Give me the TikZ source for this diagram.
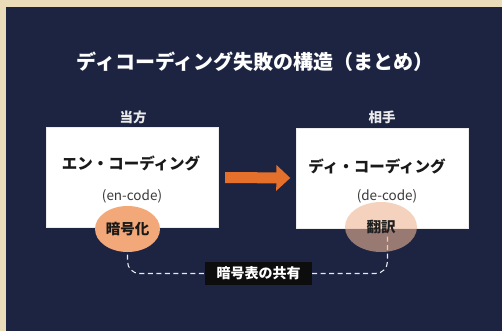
\documentclass[tikz,border=0pt]{standalone}
\usepackage{fontspec}
\setmainfont{Noto Sans CJK JP}
\usetikzlibrary{arrows.meta,shapes.geometric}
\definecolor{navy}{HTML}{1C2442}
\definecolor{parch}{HTML}{EADCB8}
\definecolor{peach}{HTML}{F2A878}
\definecolor{peachpale}{HTML}{EDB494}
\definecolor{arroworange}{HTML}{E4702C}
\definecolor{subgrey}{HTML}{3A3A3A}
\tikzset{
  titletext/.style={text=white, font=\bfseries\fontsize{20}{23}\selectfont, inner sep=0pt},
  sidetext/.style={text=white!92!black, font=\bfseries\fontsize{13.5}{16}\selectfont, inner sep=0pt},
  whitebox/.style={fill=white, draw=white!85!gray, line width=0.4pt, minimum width=172pt, minimum height=100pt, inner sep=0pt},
  boxhead/.style={text=black!90, font=\bfseries\fontsize{15.5}{18}\selectfont, inner sep=0pt},
  boxsub/.style={text=subgrey, font=\fontsize{13.5}{16}\selectfont, inner sep=0pt},
  solidoval/.style={ellipse, fill=peach, minimum width=65pt, minimum height=46pt, inner sep=0pt, text=black!90, font=\bfseries\fontsize{14.5}{16}\selectfont},
  fadedoval/.style={ellipse, fill=peachpale, fill opacity=0.6, text opacity=1, minimum width=72pt, minimum height=50pt, inner sep=0pt, text=black!88, font=\bfseries\fontsize{14.5}{16}\selectfont},
  sharelink/.style={draw=white!90!navy, line width=1.1pt, dash pattern=on 5pt off 3.5pt, rounded corners=12pt},
  sharelabel/.style={fill=black!95, text=white, font=\bfseries\fontsize{14}{16}\selectfont, minimum width=107pt, minimum height=23pt, inner sep=0pt},
  bigarrow/.style={draw=arroworange, line width=11pt, -{Triangle[length=14pt,width=25pt]}, shorten <=7pt, shorten >=6pt}
}
\begin{document}
\begin{tikzpicture}[x=1pt,y=-1pt]
\useasboundingbox (0,0) rectangle (502,331);
\fill[parch] (0,0) rectangle (502,331);
\fill[navy] (6,7) rectangle (502,331);

\node[titletext] (title) at (255,62) {ディコーディング失敗の構造（まとめ）};
\node[sidetext] (us) at (133,117) {当方};
\node[sidetext] (them) at (382,117) {相手};

\node[whitebox] (encbox) at (132,177.5) {};
\node[whitebox] (decbox) at (382.5,178) {};

\node[boxhead] (enchead) at (131,163) {エン・コーディング};
\node[boxsub] (encsub) at (132,196) {(en-code)};
\node[boxhead] (dechead) at (377,166) {ディ・コーディング};
\node[boxsub] (decsub) at (387,196) {(de-code)};

\draw[bigarrow] (encbox.east) -- (decbox.west);

\node[sharelabel] (share) at (258.5,273.5) {暗号表の共有};
\coordinate (enctop) at (127.5,229);
\coordinate (dectop) at (387.5,234);
\draw[sharelink] (enctop) |- (share.west);
\draw[sharelink] (share.east) -| (dectop);

\node[solidoval] (encoval) at (127.5,229) {暗号化};
\node[fadedoval] (decoval) at (381,227) {翻訳};
\end{tikzpicture}
\end{document}
